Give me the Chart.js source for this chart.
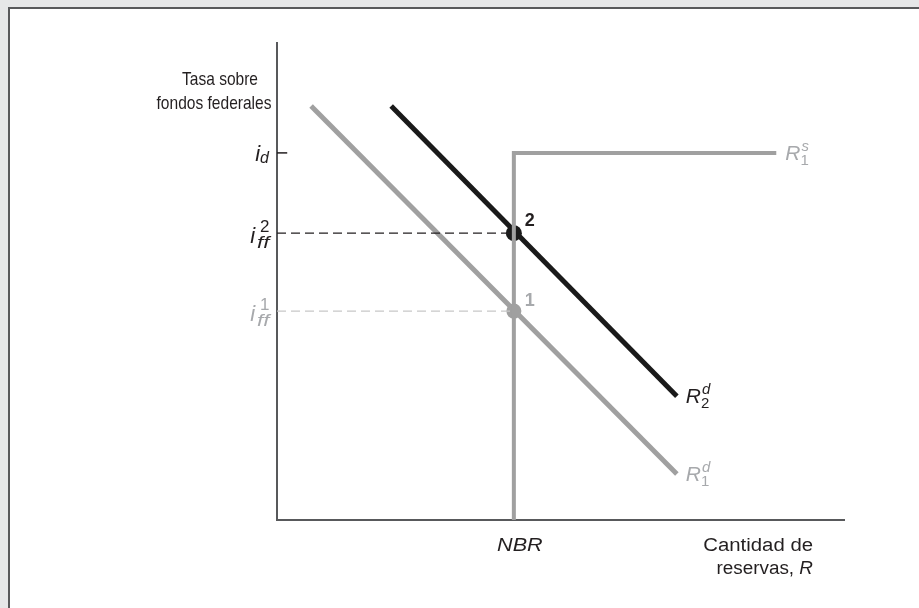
<!DOCTYPE html>
<html><head><meta charset="utf-8">
<script src="https://cdn.jsdelivr.net/npm/chart.js@4.4.1/dist/chart.umd.min.js"></script>
<style>
html,body{margin:0;padding:0;background:#e6e7e8;width:919px;height:608px;overflow:hidden}
#panel{position:absolute;left:8px;top:7px;right:0;bottom:0;background:#fff;border-left:2px solid #58595b;border-top:2px solid #58595b}
canvas{position:absolute;left:0;top:0}
</style></head>
<body>
<div id="panel"></div>
<canvas id="c" width="919" height="608"></canvas>
<script>
// chart values (axis units 0..10 on both axes)
const nbr = 4.17;
const demand1X = [0.60, 7.04];
const demand1Y = [8.66, 0.96];
const demand2X = [2.01, 7.04];
const demand2Y = [8.66, 2.59];
const supplyX = [4.17, 4.17, 8.79];
const supplyY = [0, 7.68, 7.68];
const rateD = 7.68;
const rateFF2 = 6.00;
const rateFF1 = 4.37;
const yTitle = ['Tasa sobre', 'fondos federales'];
const xTitle = ['Cantidad de', 'reservas, '];

const BLACK = '#231f20';
const GRAY = '#a0a0a0';
const LGRAY = '#a7a9ac';
const FAM = '"Liberation Sans", Arial, sans-serif';

const pts = (xs, ys) => xs.map((x, i) => ({ x, y: ys[i] }));

// text squeezed or widened horizontally
function wideText(ctx, text, x, y, sx, align) {
  ctx.save();
  const w = ctx.measureText(text).width * sx;
  let x0 = x;
  if (align === 'right') x0 = x - w;
  if (align === 'center') x0 = x - w / 2;
  ctx.translate(x0, y);
  ctx.scale(sx, 1);
  ctx.textAlign = 'left';
  ctx.fillText(text, 0, 0);
  ctx.restore();
  return w;
}

// draws base letter with superscript / subscript
// o: {bs: base size, ss: script size, sx: stretch of sub, by, py, qy: baseline offsets}
function scripted(ctx, x, y, base, sup, sub, color, align, o) {
  ctx.save();
  ctx.fillStyle = color;
  ctx.textBaseline = 'alphabetic';
  ctx.font = 'italic ' + o.bs + 'px ' + FAM;
  const bw = ctx.measureText(base).width;
  ctx.font = o.ss + 'px ' + FAM;
  const pw = sup ? ctx.measureText(sup.t).width : 0;
  const sw = sub ? ctx.measureText(sub.t).width * (o.sx || 1) : 0;
  const gap = o.gap || 1;
  const total = bw + gap + Math.max(pw, sw);
  const x0 = align === 'right' ? x - total : x;
  ctx.font = 'italic ' + o.bs + 'px ' + FAM;
  ctx.fillText(base, x0, y + o.by);
  if (sup) {
    ctx.font = (sup.it ? 'italic ' : '') + o.ss + 'px ' + FAM;
    ctx.fillText(sup.t, x0 + bw + gap + (o.px || 0), y + o.py);
  }
  if (sub) {
    ctx.font = (sub.it ? 'italic ' : '') + o.ss + 'px ' + FAM;
    wideText(ctx, sub.t, x0 + bw + gap - 1, y + o.qy, o.sx || 1, 'left');
  }
  ctx.restore();
}

const annotate = {
  id: 'annotate',
  beforeDatasetsDraw(chart) {
    const { ctx, chartArea: a } = chart;
    ctx.save();
    ctx.strokeStyle = '#58595b';
    ctx.lineWidth = 2;
    ctx.beginPath();
    ctx.moveTo(a.left, a.top);
    ctx.lineTo(a.left, a.bottom);
    ctx.lineTo(a.right, a.bottom);
    ctx.stroke();
    ctx.restore();
  },
  afterDatasetsDraw(chart) {
    const { ctx, chartArea: a, scales: { x, y } } = chart;
    const nx = x.getPixelForValue(nbr);
    ctx.save();
    ctx.fillStyle = BLACK;
    ctx.textBaseline = 'middle';
    ctx.font = '18.5px ' + FAM;
    wideText(ctx, yTitle[0], 220, 80, 0.84, 'center');
    wideText(ctx, yTitle[1], 214, 104, 0.84, 'center');

    ctx.font = '18px ' + FAM;
    wideText(ctx, xTitle[0], a.right - 32, a.bottom + 26, 1.13, 'right');
    ctx.font = 'italic 18px ' + FAM;
    const rw = wideText(ctx, 'R', a.right - 32, a.bottom + 49, 1.05, 'right');
    ctx.font = '18px ' + FAM;
    wideText(ctx, xTitle[1], a.right - 32 - rw, a.bottom + 49, 1.05, 'right');
    ctx.font = 'italic 18px ' + FAM;
    wideText(ctx, 'NBR', nx + 6, a.bottom + 26, 1.2, 'center');

    // point labels
    ctx.textAlign = 'center';
    ctx.font = 'bold 18px ' + FAM;
    ctx.fillText('2', nx + 16, y.getPixelForValue(rateFF2) - 12);
    ctx.fillStyle = LGRAY;
    ctx.fillText('1', nx + 16, y.getPixelForValue(rateFF1) - 10);
    ctx.restore();

    // y-axis rate labels
    const lx = a.left - 7;
    const dOpt = { bs: 22, ss: 16, by: 8, qy: 10, gap: 0 };
    const fOpt = { bs: 22, ss: 17, sx: 1.3, by: 10, py: -1, qy: 15, gap: 3, px: 2 };
    scripted(ctx, lx, y.getPixelForValue(rateD), 'i', null, { t: 'd', it: true }, BLACK, 'right', dOpt);
    scripted(ctx, lx, y.getPixelForValue(rateFF2), 'i', { t: '2' }, { t: 'ff', it: true }, BLACK, 'right', fOpt);
    scripted(ctx, lx, y.getPixelForValue(rateFF1), 'i', { t: '1' }, { t: 'ff', it: true }, LGRAY, 'right', fOpt);

    // curve labels
    const rOpt = { bs: 21, ss: 15, by: 7, py: -2, qy: 12, gap: 1 };
    scripted(ctx, x.getPixelForValue(demand2X[1]) + 9, y.getPixelForValue(demand2Y[1]), 'R', { t: 'd', it: true }, { t: '2' }, BLACK, 'left', rOpt);
    scripted(ctx, x.getPixelForValue(demand1X[1]) + 9, y.getPixelForValue(demand1Y[1]), 'R', { t: 'd', it: true }, { t: '1' }, LGRAY, 'left', rOpt);
    scripted(ctx, x.getPixelForValue(supplyX[2]) + 9, y.getPixelForValue(supplyY[2]), 'R', { t: 's', it: true }, { t: '1' }, LGRAY, 'left', rOpt);
  }
};

const lineSet = (data, color, width, dash) => ({
  data, showLine: true, borderColor: color, borderWidth: width,
  borderDash: dash || [], pointRadius: 0, fill: false, tension: 0,
  borderCapStyle: 'butt', clip: false
});

new Chart(document.getElementById('c'), {
  type: 'scatter',
  data: {
    datasets: [
      lineSet([{ x: 0, y: rateD }, { x: 0.18, y: rateD }], BLACK, 1.5),
      lineSet([{ x: 0, y: rateFF2 }, { x: nbr, y: rateFF2 }], BLACK, 1.2, [9, 5]),
      lineSet([{ x: 0, y: rateFF1 }, { x: nbr, y: rateFF1 }], '#c8c8c8', 1.2, [9, 5]),
      lineSet(pts(supplyX, supplyY), GRAY, 4),
      lineSet(pts(demand1X, demand1Y), GRAY, 5),
      lineSet(pts(demand2X, demand2Y), '#1a1a1a', 5),
      { data: [{ x: nbr, y: rateFF1 }], pointRadius: 7.5, pointBackgroundColor: GRAY, pointBorderWidth: 0, clip: false },
      { data: [{ x: nbr, y: rateFF2 }], pointRadius: 8, pointBackgroundColor: '#1a1a1a', pointBorderWidth: 0, clip: false }
    ]
  },
  options: {
    responsive: false,
    animation: false,
    events: [],
    layout: { padding: { left: 277, top: 42, right: 74, bottom: 88 } },
    scales: {
      x: { type: 'linear', min: 0, max: 10, display: false },
      y: { type: 'linear', min: 0, max: 10, display: false }
    },
    plugins: { legend: { display: false }, tooltip: { enabled: false } }
  },
  plugins: [annotate]
});
</script>
</body></html>
